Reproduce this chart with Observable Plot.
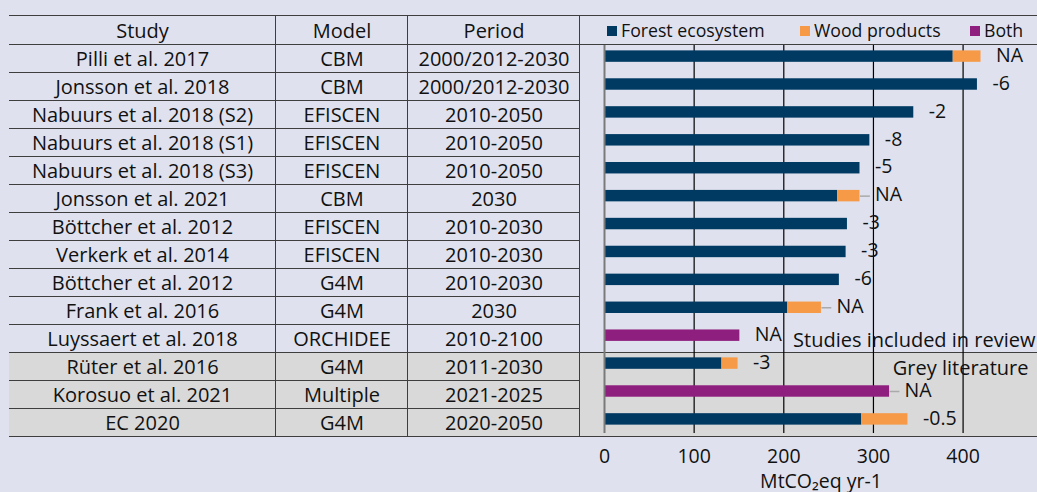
<!DOCTYPE html>
<html>
<head>
<meta charset="utf-8">
<script src="https://cdn.jsdelivr.net/npm/d3@7"></script>
<script src="https://cdn.jsdelivr.net/npm/@observablehq/plot@0.6"></script>
<style>
  html, body { margin: 0; padding: 0; }
  #wrap { position: relative; width: 1037px; height: 492px; background: #dfe2ee; overflow: hidden;
          font-family: "Open Sans", "Noto Sans", sans-serif; font-size: 20px; color: #111; }
  .abs { position: absolute; }
  .hline { position: absolute; height: 0; border-top: 1.5px solid #3e3e3e; }
  .vline { position: absolute; width: 0; border-left: 1.5px solid #3e3e3e; }
  .cell { position: absolute; text-align: center; white-space: nowrap; line-height: 28px; height: 28px; }
  .sw { position: absolute; width: 10px; height: 10px; top: 26px; }
  .lt { position: absolute; top: 16px; line-height: 29px; white-space: nowrap; font-size: 17.7px; }
  #chart { position: absolute; left: 580px; top: 0; }
</style>
</head>
<body>
<div id="wrap"></div>
<script>
// ---- data ----
const studies = ["Pilli et al. 2017", "Jonsson et al. 2018", "Nabuurs et al. 2018 (S2)", "Nabuurs et al. 2018 (S1)",
  "Nabuurs et al. 2018 (S3)", "Jonsson et al. 2021", "Böttcher et al. 2012", "Verkerk et al. 2014",
  "Böttcher et al. 2012", "Frank et al. 2016", "Luyssaert et al. 2018", "Rüter et al. 2016",
  "Korosuo et al. 2021", "EC 2020"];
const models = ["CBM", "CBM", "EFISCEN", "EFISCEN", "EFISCEN", "CBM", "EFISCEN", "EFISCEN", "G4M", "G4M",
  "ORCHIDEE", "G4M", "Multiple", "G4M"];
const periods = ["2000/2012-2030", "2000/2012-2030", "2010-2050", "2010-2050", "2010-2050", "2030",
  "2010-2030", "2010-2030", "2010-2030", "2030", "2010-2100", "2011-2030", "2021-2025", "2020-2050"];
const forestEcosystem = [389, 416, 345, 296, 285, 260, 271, 269.5, 262, 204.5, 0, 131, 0, 287];
const woodProducts    = [31, 0, 0, 0, 0, 25, 0, 0, 0, 37.5, 0, 18, 0, 51.5];
const bothPools       = [0, 0, 0, 0, 0, 0, 0, 0, 0, 0, 151, 0, 318, 0];
const valueLabels = ["NA", "-6", "-2", "-8", "-5", "NA", "-3", "-3", "-6", "NA", "NA", "-3", "NA", "-0.5"];
const sourceType = ["review", "review", "review", "review", "review", "review", "review", "review", "review",
  "review", "review", "grey", "grey", "grey"];
const headers = ["Study", "Model", "Period"];
const seriesNames = ["Forest ecosystem", "Wood products", "Both"];
const seriesColors = ["#003a63", "#f69a48", "#8f1f7e"];
const xTicks = [0, 100, 200, 300, 400];
const xTitle = "MtCO₂eq yr-1";
const groupNotes = ["Studies included in review", "Grey literature"];

// ---- build ----
const wrap = document.getElementById("wrap");
const el = (cls, style, text) => {
  const d = document.createElement("div");
  d.className = cls;
  Object.assign(d.style, style);
  if (text != null) d.textContent = text;
  wrap.appendChild(d);
  return d;
};

const tableLeft = 9, tableTop = 16, headH = 29, rowH = 28;
const colX = [9, 276, 408, 580];
const bodyTop = tableTop + headH;
const nRows = studies.length;
const firstGrey = sourceType.indexOf("grey");
const lastReview = sourceType.lastIndexOf("review");

// grey band for grey literature rows
el("abs", {left: tableLeft + "px", top: (bodyTop + firstGrey * rowH) + "px", width: (1037 - tableLeft) + "px",
  height: ((nRows - firstGrey) * rowH) + "px", background: "#d9d9d9"});

// header cells
headers.forEach((h, j) => {
  el("cell", {left: colX[j] + "px", width: (colX[j + 1] - colX[j]) + "px", top: tableTop + "px",
    height: headH + "px", lineHeight: headH + "px"}, h);
});
// body cells
const cols = [studies, models, periods];
for (let i = 0; i < nRows; i++) {
  cols.forEach((c, j) => {
    el("cell", {left: colX[j] + "px", width: (colX[j + 1] - colX[j]) + "px", top: (bodyTop + i * rowH) + "px"}, c[i]);
  });
  el("hline", {left: tableLeft + "px", width: (colX[3] - tableLeft) + "px", top: (bodyTop + (i + 1) * rowH - 0.75) + "px"});
}
// full-width lines
[tableTop, bodyTop, bodyTop + firstGrey * rowH, bodyTop + nRows * rowH].forEach(y => {
  el("hline", {left: tableLeft + "px", width: (1037 - tableLeft) + "px", top: (y - 0.75) + "px"});
});
// vertical lines
[colX[1], colX[2], colX[3]].forEach(x => {
  el("vline", {left: (x - 0.75) + "px", top: tableTop + "px", height: (headH + nRows * rowH) + "px"});
});

// legend
const legendX = [607, 800, 970];
seriesNames.forEach((s, k) => {
  el("sw", {left: legendX[k] + "px", background: seriesColors[k]});
  el("lt", {left: (legendX[k] + 14) + "px"}, s);
});

// chart
const rows = studies.map((s, i) => ({
  row: i, label: valueLabels[i],
  total: forestEcosystem[i] + woodProducts[i] + bothPools[i],
  source: sourceType[i]
}));
const long = [];
studies.forEach((s, i) => {
  long.push({row: i, series: seriesNames[0], value: forestEcosystem[i]});
  long.push({row: i, series: seriesNames[1], value: woodProducts[i]});
  long.push({row: i, series: seriesNames[2], value: bothPools[i]});
});
const leaderRows = [5, 9, 12].map(i => rows[i]);

const chart = Plot.plot({
  width: 457, height: 492,
  marginLeft: 24, marginRight: 0, marginTop: 42, marginBottom: 59,
  style: {background: "transparent", fontFamily: "'Open Sans', 'Noto Sans', sans-serif", fontSize: "19.5px", color: "#111", overflow: "visible"},
  x: {domain: [0, 483]},
  y: {domain: d3.range(nRows), paddingInner: 0.59, paddingOuter: 0.3, round: false, axis: null},
  color: {domain: seriesNames, range: seriesColors},
  marks: [
    Plot.ruleX(xTicks.filter(t => t > 0), {stroke: "#000", strokeWidth: 1.2, insetTop: 3}),
    Plot.barX(long.filter(d => d.value > 0), Plot.stackX({y: "row", x: "value", fill: "series", order: seriesNames})),
    Plot.ruleX([0], {stroke: "#7a7a7a", strokeWidth: 2, insetTop: 3}),
    Plot.link(leaderRows, {x1: "total", x2: d => d.total + 11, y1: "row", y2: "row", stroke: "#aaa", strokeWidth: 1.5}),
    Plot.text(rows, {x: "total", y: "row", text: "label", textAnchor: "start", dx: 15, dy: -1, fill: "#111"}),
    Plot.text([groupNotes[0]], {y: [lastReview], text: d => d, frameAnchor: "right", textAnchor: "end", dx: -2, dy: 5, fill: "#111", fontSize: 20}),
    Plot.text([groupNotes[1]], {y: [firstGrey], text: d => d, frameAnchor: "right", textAnchor: "end", dx: -9, dy: 5, fill: "#111", fontSize: 20}),
    Plot.axisX({ticks: xTicks, tickSize: 0, tickPadding: 16, label: xTitle, labelAnchor: "center", labelArrow: "none", labelOffset: 54})
  ]
});
chart.id = "chart";
wrap.appendChild(chart);
</script>
</body>
</html>
